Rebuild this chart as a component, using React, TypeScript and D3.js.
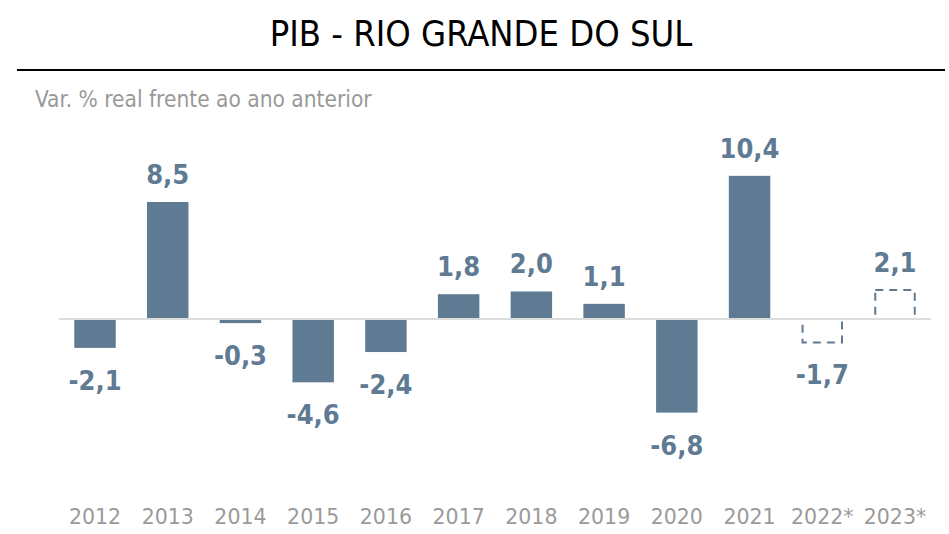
import * as d3 from "d3";
import React from "react";

const years = ["2012", "2013", "2014", "2015", "2016", "2017", "2018", "2019", "2020", "2021", "2022*", "2023*"];
const growth = [-2.1, 8.5, -0.3, -4.6, -2.4, 1.8, 2.0, 1.1, -6.8, 10.4, -1.7, 2.1];
const projected = [false, false, false, false, false, false, false, false, false, false, true, true];

const barColor = "#5f7a93";
const condensed = "'DejaVu Sans Condensed', 'Liberation Sans Narrow', sans-serif";

function fmt(v: number) {
    return d3.format(".1f")(v).replace("\u2212", "-").replace(".", ",");
}

const App = () => {
    const ref = React.useRef<SVGSVGElement>(null);

    React.useEffect(() => {
        const w = 949;
        const h = 534;
        const svg = d3.select(ref.current);
        svg.selectAll("*").remove();

        // title + rule
        svg.append("text")
            .attr("x", 481)
            .attr("y", 46)
            .attr("text-anchor", "middle")
            .style("font-family", condensed)
            .style("font-size", "36px")
            .style("fill", "#000")
            .text("PIB - RIO GRANDE DO SUL");
        svg.append("line")
            .attr("x1", 17).attr("x2", 945)
            .attr("y1", 70).attr("y2", 70)
            .attr("stroke", "#000")
            .attr("stroke-width", 2);
        svg.append("text")
            .attr("x", 35)
            .attr("y", 107)
            .style("font-family", condensed)
            .style("font-size", "22.5px")
            .style("fill", "#999")
            .text("Var. % real frente ao ano anterior");

        const xScale = d3.scaleBand<string>()
            .domain(years)
            .range([59, 931])
            .paddingInner(0.43)
            .paddingOuter(0.21);
        const yScale = d3.scaleLinear()
            .domain([0, 8.5])
            .range([319, 202]);

        const g = svg.append("g");
        const bars = g.selectAll("g.bar")
            .data(years.map((y, i) => ({ year: y, value: growth[i], proj: projected[i] })))
            .enter()
            .append("g")
            .attr("class", "bar");

        bars.filter(d => !d.proj)
            .append("rect")
            .attr("x", d => xScale(d.year)!)
            .attr("y", d => yScale(Math.max(0, d.value)))
            .attr("width", xScale.bandwidth())
            .attr("height", d => Math.abs(yScale(d.value) - yScale(0)))
            .attr("fill", barColor);

        bars.filter(d => d.proj)
            .append("rect")
            .attr("x", d => xScale(d.year)! + 1)
            .attr("y", d => yScale(Math.max(0, d.value)))
            .attr("width", xScale.bandwidth() - 2)
            .attr("height", d => Math.abs(yScale(d.value) - yScale(0)))
            .attr("fill", "none")
            .attr("stroke", barColor)
            .attr("stroke-width", 2)
            .attr("stroke-dasharray", "8,6");

        // zero line
        g.append("line")
            .attr("x1", 59).attr("x2", 931)
            .attr("y1", yScale(0)).attr("y2", yScale(0))
            .attr("stroke", "#dcdcdc")
            .attr("stroke-width", 2);

        // value labels
        bars.append("text")
            .attr("x", d => xScale(d.year)! + xScale.bandwidth() / 2)
            .attr("y", d => d.value >= 0 ? yScale(d.value) - 18 : yScale(d.value) + 42)
            .attr("text-anchor", "middle")
            .style("font-family", condensed)
            .style("font-weight", "bold")
            .style("font-size", "27px")
            .style("fill", barColor)
            .text(d => fmt(d.value));

        // year labels
        bars.append("text")
            .attr("x", d => xScale(d.year)! + xScale.bandwidth() / 2)
            .attr("y", 524)
            .attr("text-anchor", "middle")
            .style("font-family", "'DejaVu Sans', sans-serif")
            .style("font-size", "20.5px")
            .style("fill", "#9a9a9a")
            .text(d => d.year);

        svg.attr("width", w).attr("height", h);
    }, []);

    return (
        <svg
            ref={ref}
            width={949}
            height={534}
            style={{ position: "absolute", left: 0, top: 0, background: "#fff" }}
        />
    );
};

export default App;
